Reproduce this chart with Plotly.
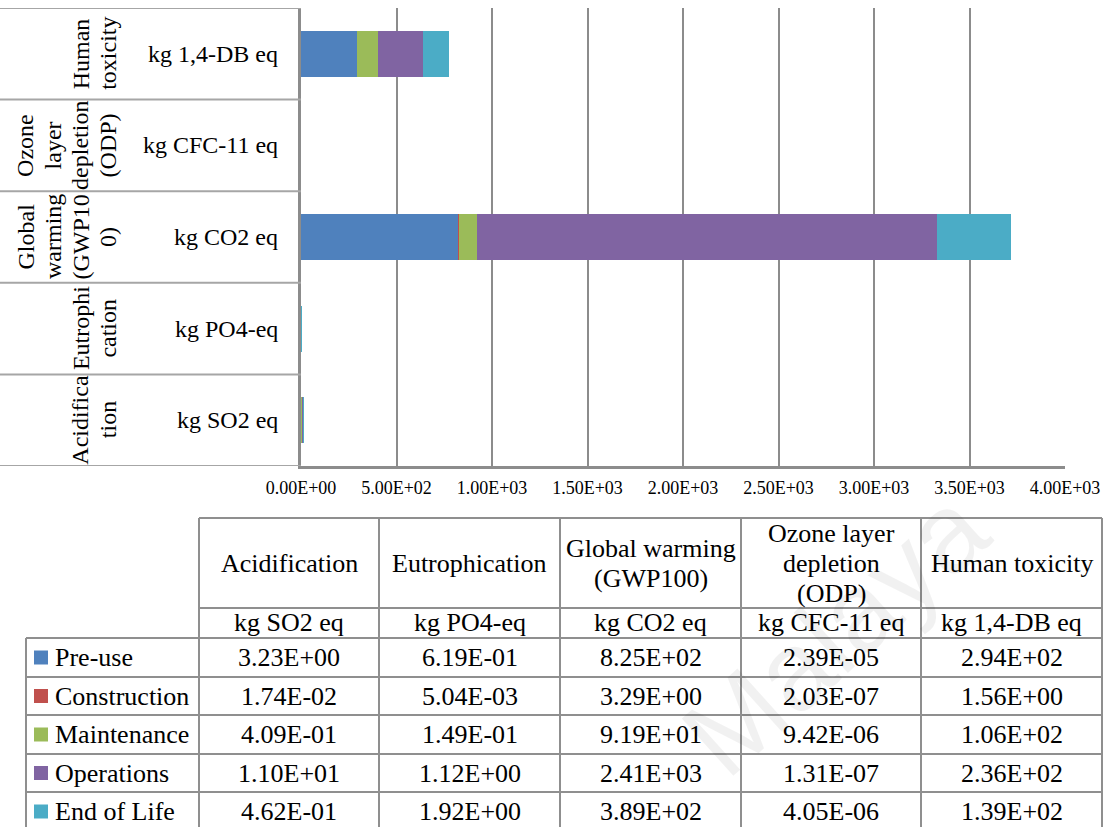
import plotly.graph_objects as go

# ---------------- data ----------------
categories = ["Acidification", "Eutrophication", "Global warming (GWP100)",
              "Ozone layer depletion (ODP)", "Human toxicity"]
axis_label_lines = [["Acidifica", "tion"], ["Eutrophi", "cation"],
                    ["Global", "warming", "(GWP10", "0)"],
                    ["Ozone", "layer", "depletion", "(ODP)"],
                    ["Human", "toxicity"]]
units = ["kg SO2 eq", "kg PO4-eq", "kg CO2 eq", "kg CFC-11 eq", "kg 1,4-DB eq"]
table_headers = [["Acidification"], ["Eutrophication"], ["Global warming", "(GWP100)"],
                 ["Ozone layer", "depletion", "(ODP)"], ["Human toxicity"]]
stages = ["Pre-use", "Construction", "Maintenance", "Operations", "End of Life"]
pre_use = [3.23e+00, 6.19e-01, 8.25e+02, 2.39e-05, 2.94e+02]
construction = [1.74e-02, 5.04e-03, 3.29e+00, 2.03e-07, 1.56e+00]
maintenance = [4.09e-01, 1.49e-01, 9.19e+01, 9.42e-06, 1.06e+02]
operations = [1.10e+01, 1.12e+00, 2.41e+03, 1.31e-07, 2.36e+02]
end_of_life = [4.62e-01, 1.92e+00, 3.89e+02, 4.05e-06, 1.39e+02]
series = [pre_use, construction, maintenance, operations, end_of_life]
colors = ["#4F81BD", "#C0504D", "#9BBB59", "#8064A2", "#4BACC6"]
x_ticks = [0, 500, 1000, 1500, 2000, 2500, 3000, 3500, 4000]

# ---------------- layout helpers (pixel -> paper) ----------------
W, H = 1110, 827
def px(x):
    return x / W
def py(y):
    return 1 - y / H

FONT = "Liberation Serif, Times New Roman, serif"
GRID = "#8c8c8c"
TLINE = "#8f8f8f"

plot_l, plot_r, plot_t, plot_b = 301, 1065, 8, 466

fig = go.Figure()
for name, vals, col in zip(stages, series, colors):
    fig.add_trace(go.Bar(
        y=categories, x=vals, name=name, orientation="h",
        marker=dict(color=col, line=dict(width=0)), width=0.5,
        showlegend=False, hoverinfo="x+name"))

shapes = []
annotations = []

# watermark (very faint, translucent so text shows through)
annotations.append(dict(text="Malaya", xref="paper", yref="paper",
                        x=px(835), y=py(632), xanchor="center", yanchor="middle",
                        showarrow=False, textangle=-42,
                        font=dict(family="Liberation Sans, Arial", size=112,
                                  color="rgba(0,0,0,0.055)")))

# left category separators
for k in range(len(categories) + 1):
    shapes.append(dict(type="line", xref="paper", yref="y",
                       x0=0, x1=px(plot_l), y0=k - 0.5, y1=k - 0.5,
                       line=dict(color="#a6a6a6", width=2)))

# left labels: rotated outer labels + units
for cat, lines, unit in zip(categories, axis_label_lines, units):
    n = len(lines)
    for i, ln in enumerate(lines):
        xc = 108 - (n - 1 - i) * 27.5
        annotations.append(dict(text=ln, xref="paper", yref="y", x=px(xc), y=cat,
                                xanchor="center", yanchor="middle", showarrow=False,
                                textangle=-90,
                                font=dict(family=FONT, size=24, color="black")))
    annotations.append(dict(text=unit, xref="paper", yref="y", x=px(280), y=cat,
                            xanchor="right", yanchor="middle", showarrow=False,
                            font=dict(family=FONT, size=24, color="black")))

# ---------------- data table ----------------
col_x = [26, 199, 379, 560, 741, 921, 1102]
row_y = [518, 608, 638, 677, 715, 754, 792, 831]
lw = 2
def hline(x0, x1, y):
    shapes.append(dict(type="line", xref="paper", yref="paper", x0=px(x0), x1=px(x1),
                       y0=py(y), y1=py(y), line=dict(color=TLINE, width=lw)))
def vline(x, y0, y1):
    shapes.append(dict(type="line", xref="paper", yref="paper", x0=px(x), x1=px(x),
                       y0=py(y0), y1=py(y1), line=dict(color=TLINE, width=lw)))

hline(col_x[1], col_x[-1], row_y[0])
hline(col_x[1], col_x[-1], row_y[1])
for yy in row_y[2:]:
    hline(col_x[0], col_x[-1], yy)
vline(col_x[0], row_y[2], row_y[-1])
for xx in col_x[1:]:
    vline(xx, row_y[0], row_y[-1])

TFS = 26
def txt(text, x, y, anchor="center"):
    annotations.append(dict(text=text, xref="paper", yref="paper", x=px(x), y=py(y),
                            xanchor=anchor, yanchor="middle", showarrow=False,
                            font=dict(family=FONT, size=TFS, color="black")))

hdr_mid = (row_y[0] + row_y[1]) / 2
for j, (hdr, unit) in enumerate(zip(table_headers, units)):
    xc = (col_x[j + 1] + col_x[j + 2]) / 2
    n = len(hdr)
    for i, ln in enumerate(hdr):
        txt(ln, xc, hdr_mid + (i - (n - 1) / 2) * 30)
    txt(unit, xc, (row_y[1] + row_y[2]) / 2 - 1)

for i, (name, vals, col) in enumerate(zip(stages, series, colors)):
    yc = (row_y[2 + i] + row_y[3 + i]) / 2
    shapes.append(dict(type="rect", xref="paper", yref="paper", x0=px(34), x1=px(48),
                       y0=py(yc - 7), y1=py(yc + 7), fillcolor=col, line=dict(width=0)))
    txt(name, 53, yc, anchor="left")
    for j, v in enumerate(vals):
        xc = (col_x[j + 1] + col_x[j + 2]) / 2
        txt(f"{v:.2E}", xc, yc)

fig.update_layout(
    width=W, height=H, autosize=False,
    margin=dict(l=0, r=0, t=0, b=0, autoexpand=False),
    paper_bgcolor="white", plot_bgcolor="white",
    barmode="stack", bargap=0.5,
    shapes=shapes, annotations=annotations,
    xaxis=dict(domain=[px(plot_l), px(plot_r)], range=[0, 4000],
               tickvals=x_ticks, ticktext=[f"{v:.2E}" for v in x_ticks],
               tickfont=dict(family=FONT, size=18, color="black"),
               showgrid=True, gridcolor=GRID, gridwidth=1.5,
               showline=True, linecolor=GRID, linewidth=3,
               zeroline=False, ticks="", ticklabelstandoff=3, fixedrange=True,
               automargin=False),
    yaxis=dict(domain=[py(plot_b), py(plot_t)], type="category",
               categoryorder="array", categoryarray=categories,
               range=[-0.5, len(categories) - 0.5],
               showticklabels=False, showgrid=False, zeroline=False,
               showline=True, linecolor=GRID, linewidth=3, ticks="", fixedrange=True,
               automargin=False),
)

fig.write_html("out.html", config={"displayModeBar": False},
               post_script="document.body.style.margin='0';")
